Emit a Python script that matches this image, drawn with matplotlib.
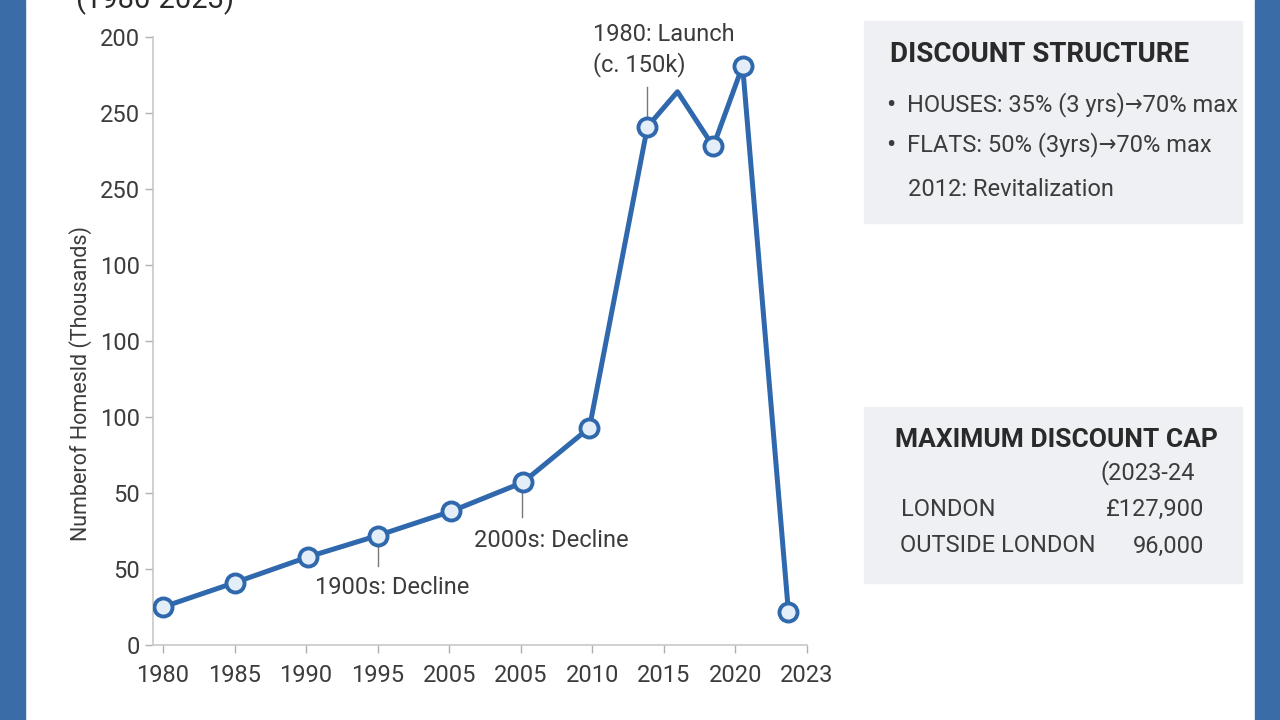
import matplotlib.pyplot as plt
from matplotlib.patches import Rectangle

plt.rcParams['font.family'] = ['DejaVu Sans Condensed', 'Liberation Sans Narrow', 'Roboto', 'DejaVu Sans']
plt.rcParams['font.stretch'] = 'condensed'

# data (y in axis units, 50 per tick)
x_labels = ['1980', '1985', '1990', '1995', '2005', '2005', '2010', '2015', '2020', '2023']
y_labels = ['0', '50', '50', '100', '100', '100', '250', '250', '200']
pos = [0, 1.0, 2.03, 3.0, 4.03, 5.03, 5.96, 6.77, 7.19, 7.69, 8.1, 8.74]
homes = [25, 41, 58, 72, 88, 107, 143, 341, 364, 328, 381, 22]
marked = [0, 1, 2, 3, 4, 5, 6, 7, 9, 10, 11]

blue = '#2f68ad'
txt = '#3c3c3c'

fig = plt.figure(figsize=(12.8, 7.2), dpi=100)
fig.patch.set_facecolor('white')

# blue side bands
fig.patches.append(Rectangle((0, 0), 25 / 1280, 1, transform=fig.transFigure, color='#3a6ca8', zorder=0))
fig.patches.append(Rectangle((1255 / 1280, 0), 25 / 1280, 1, transform=fig.transFigure, color='#3a6ca8', zorder=0))

ax = fig.add_axes([153 / 1280, 75 / 720, 654 / 1280, 608 / 720])
ax.plot(pos, homes, color=blue, lw=3.6, zorder=3,
        marker='o', markevery=marked, ms=13, mfc='#e4eef9', mec=blue, mew=2.8)

ax.set_xlim(-0.14, 9)
ax.set_ylim(0, 400)
ax.set_xticks(range(len(x_labels)))
ax.set_xticklabels(x_labels)
ax.set_yticks([i * 50 for i in range(len(y_labels))])
ax.set_yticklabels(y_labels)
for s in ['top', 'right']:
    ax.spines[s].set_visible(False)
for s in ['left', 'bottom']:
    ax.spines[s].set_color('#c8c8c8')
    ax.spines[s].set_linewidth(1.2)
ax.tick_params(colors='#b0b0b0', labelcolor=txt, labelsize=17, length=6, width=1)
ax.tick_params(axis='x', pad=8)
ax.set_ylabel('Numberof Homesld (Thousands)', fontsize=15.5, color=txt)
ax.yaxis.set_label_coords(-0.094, 0.43)

# annotations
ax.plot([6.77, 6.77], [347, 367], color='#777777', lw=1, zorder=2)
ax.text(6.01, 374, '1980: Launch\n(c. 150k)', fontsize=17, color=txt,
        va='bottom', ha='left', linespacing=1.3)
ax.plot([3.0, 3.0], [52, 66], color='#777777', lw=1, zorder=2)
ax.text(2.13, 38, '1900s: Decline', fontsize=17, color=txt, va='center', ha='left')
ax.plot([5.02, 5.02], [84, 100], color='#777777', lw=1, zorder=2)
ax.text(4.35, 68.5, '2000s: Decline', fontsize=17, color=txt, va='center', ha='left')

# cut-off title
fig.text(75 / 1280, 1 - 8 / 720, '(1980-2023)', fontsize=21, color='#2a2a2a', va='baseline', ha='left')


def fx(x):
    return x / 1280


def fy(y):
    return 1 - y / 720


# side panels
for top, bot in [(21, 223), (407, 583)]:
    fig.patches.append(Rectangle((fx(864), fy(bot)), fx(1242 - 864), (bot - top) / 720,
                                 transform=fig.transFigure, color='#eef0f3', zorder=0))

fig.text(fx(890), fy(54), 'DISCOUNT STRUCTURE', fontsize=20, fontweight='bold', color='#2a2a2a', va='center')
fig.text(fx(886), fy(105), '•', fontsize=20, color=txt, va='center')
fig.text(fx(907), fy(105), 'HOUSES: 35% (3 yrs)→70% max', fontsize=17, color=txt, va='center')
fig.text(fx(886), fy(145), '•', fontsize=20, color=txt, va='center')
fig.text(fx(907), fy(145), 'FLATS: 50% (3yrs)→70% max', fontsize=17, color=txt, va='center')
fig.text(fx(908), fy(190), '2012: Revitalization', fontsize=17, color=txt, va='center')

fig.text(fx(895), fy(440), 'MAXIMUM DISCOUNT CAP', fontsize=19, fontweight='bold', color='#2a2a2a', va='center')
fig.text(fx(1101), fy(473), '(2023-24', fontsize=17, color=txt, va='center')
fig.text(fx(901), fy(509), 'LONDON', fontsize=17, color=txt, va='center')
fig.text(fx(1204), fy(509), '£127,900', fontsize=17, color=txt, va='center', ha='right')
fig.text(fx(900), fy(546), 'OUTSIDE LONDON', fontsize=17, color=txt, va='center')
fig.text(fx(1204), fy(546), '96,000', fontsize=17, color=txt, va='center', ha='right')

fig.savefig('out.png', dpi=100)
